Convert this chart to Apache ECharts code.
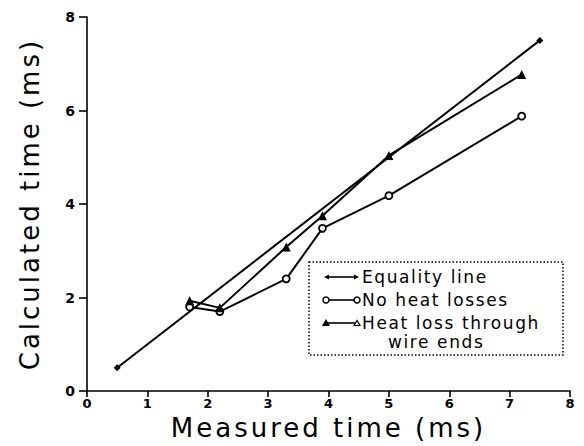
<!DOCTYPE html>
<html>
<head>
<meta charset="utf-8">
<script src="https://cdn.jsdelivr.net/npm/echarts@6/dist/echarts.min.js"></script>
<style>
html,body{margin:0;padding:0;background:#fff;}
#chart{width:584px;height:446px;}
#chart svg text[style*="26px"]{letter-spacing:3px;}
#chart svg text[style*="17px"]{letter-spacing:1.6px;}
</style>
</head>
<body>
<div id="chart"></div>
<script>
// ---- data ----
const xTicks = [0, 1, 2, 3, 4, 5, 6, 7, 8];
const yTicks = [0, 2, 4, 6, 8];
const equalityX = [0.5, 7.5];
const equalityY = [0.5, 7.5];
const measuredX = [1.7, 2.2, 3.3, 3.9, 5.0, 7.2];
const noHeatLossY = [1.8, 1.7, 2.4, 3.48, 4.18, 5.88];
const wireEndsY = [1.93, 1.78, 3.08, 3.75, 5.04, 6.77];
const seriesNames = ['Equality line', 'No heat losses', 'Heat loss through', 'wire ends'];
const xName = 'Measured time (ms)';
const yName = 'Calculated time (ms)';

function pairs(xs, ys) { return xs.map((x, i) => [x, ys[i]]); }

const chart = echarts.init(document.getElementById('chart'), null, {renderer: 'svg'});
const black = '#000';
const nameFont = 'DejaVu Sans';
const legendFont = 'normal 17px "DejaVu Sans"';

const option = {
  backgroundColor: '#fff',
  animation: false,
  grid: {left: 87, right: 14, top: 17, bottom: 53, containLabel: false},
  xAxis: {
    type: 'value', min: xTicks[0], max: xTicks[xTicks.length - 1], interval: 1,
    name: xName, nameLocation: 'middle', nameGap: 36,
    nameTextStyle: {fontFamily: nameFont, fontWeight: 'normal', fontSize: 26, color: black, verticalAlign: 'middle'},
    axisLine: {show: true, onZero: false, lineStyle: {color: black, width: 1.6}},
    axisTick: {show: true, inside: false, length: 6, lineStyle: {color: black, width: 1.6}},
    axisLabel: {margin: 6, fontFamily: 'DejaVu Sans', fontWeight: 'bold', fontSize: 13, color: black},
    splitLine: {show: false}
  },
  yAxis: {
    type: 'value', min: yTicks[0], max: yTicks[yTicks.length - 1], interval: 2,
    name: yName, nameLocation: 'middle', nameGap: 57,
    nameTextStyle: {fontFamily: nameFont, fontWeight: 'normal', fontSize: 26, color: black, verticalAlign: 'middle'},
    axisLine: {show: true, onZero: false, lineStyle: {color: black, width: 1.6}},
    axisTick: {show: true, inside: false, length: 8, lineStyle: {color: black, width: 1.6}},
    axisLabel: {margin: 12, fontFamily: 'DejaVu Sans', fontWeight: 'bold', fontSize: 14, color: black},
    splitLine: {show: false}
  },
  series: [
    {
      name: seriesNames[0], type: 'line', data: pairs(equalityX, equalityY),
      symbol: 'diamond', symbolSize: 7, showSymbol: true,
      lineStyle: {color: black, width: 2}, itemStyle: {color: black}
    },
    {
      name: seriesNames[1], type: 'line', data: pairs(measuredX, noHeatLossY),
      symbol: 'circle', symbolSize: 7,
      lineStyle: {color: black, width: 2}, itemStyle: {color: '#fff', borderColor: black, borderWidth: 1.8}
    },
    {
      name: seriesNames[2] + ' ' + seriesNames[3], type: 'line', data: pairs(measuredX, wireEndsY),
      symbol: 'triangle', symbolSize: 9,
      lineStyle: {color: black, width: 2}, itemStyle: {color: black}
    }
  ],
  graphic: [
    {type: 'rect', shape: {x: 309, y: 262, width: 254, height: 93}, z: 10,
     style: {fill: '#fff', stroke: black, lineWidth: 1.5, lineDash: [1.5, 2]}},
    // entry 1
    {type: 'line', shape: {x1: 326, y1: 277, x2: 357, y2: 277}, z: 11, style: {stroke: black, lineWidth: 1.6}},
    {type: 'polygon', shape: {points: [[324, 277], [329, 274.5], [329, 279.5]]}, z: 11, style: {fill: black}},
    {type: 'polygon', shape: {points: [[359, 277], [354, 274.5], [354, 279.5]]}, z: 11, style: {fill: black}},
    {type: 'text', x: 362, y: 277, z: 11, style: {text: seriesNames[0], font: legendFont, fill: black, verticalAlign: 'middle'}},
    // entry 2
    {type: 'line', shape: {x1: 329, y1: 300, x2: 354, y2: 300}, z: 11, style: {stroke: black, lineWidth: 1.6}},
    {type: 'circle', shape: {cx: 326, cy: 300, r: 3}, z: 11, style: {fill: '#fff', stroke: black, lineWidth: 1.5}},
    {type: 'circle', shape: {cx: 357, cy: 300, r: 3}, z: 11, style: {fill: '#fff', stroke: black, lineWidth: 1.5}},
    {type: 'text', x: 362, y: 300, z: 11, style: {text: seriesNames[1], font: legendFont, fill: black, verticalAlign: 'middle'}},
    // entry 3
    {type: 'line', shape: {x1: 326, y1: 323, x2: 355, y2: 323}, z: 11, style: {stroke: black, lineWidth: 1.6}},
    {type: 'polygon', shape: {points: [[322, 326], [326, 319], [330, 326]]}, z: 11, style: {fill: black}},
    {type: 'polygon', shape: {points: [[354, 325.5], [357, 320.5], [360, 325.5]]}, z: 11, style: {fill: '#fff', stroke: black, lineWidth: 1.2}},
    {type: 'text', x: 362, y: 323, z: 11, style: {text: seriesNames[2], font: legendFont, fill: black, verticalAlign: 'middle'}},
    {type: 'text', x: 388, y: 341.5, z: 11, style: {text: seriesNames[3], font: legendFont, fill: black, verticalAlign: 'middle'}}
  ]
};
chart.setOption(option);
</script>
</body>
</html>
